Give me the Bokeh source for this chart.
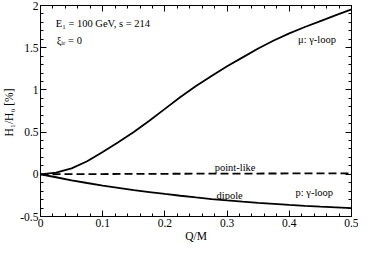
from bokeh.plotting import figure
from bokeh.models import LinearAxis, SingleIntervalTicker, CustomJSTickFormatter, Range1d
from bokeh.core.properties import value
from bokeh.embed import file_html
from bokeh.resources import INLINE

# ---- data ----
q = [0.0, 0.025, 0.05, 0.075, 0.1, 0.125, 0.15, 0.175, 0.2, 0.225, 0.25,
     0.275, 0.3, 0.325, 0.35, 0.375, 0.4, 0.425, 0.45, 0.475, 0.5]
mu_loop = [0.0, 0.02, 0.07, 0.155, 0.265, 0.38, 0.50, 0.635, 0.775, 0.915, 1.045,
           1.165, 1.28, 1.385, 1.49, 1.585, 1.67, 1.745, 1.815, 1.885, 1.955]
dipole = [0.0, -0.035, -0.072, -0.103, -0.133, -0.16, -0.187, -0.21, -0.233, -0.254, -0.274,
          -0.293, -0.309, -0.324, -0.338, -0.35, -0.362, -0.373, -0.383, -0.391, -0.40]
q_point = [0.0, 0.1, 0.2, 0.3, 0.4, 0.5]
point_like = [0.0, 0.003, 0.006, 0.008, 0.010, 0.012]

x_ticks = [0, 0.1, 0.2, 0.3, 0.4, 0.5]
x_tick_labels = ["0", "0.1", "0.2", "0.3", "0.4", "0.5"]
y_ticks = [-0.5, 0, 0.5, 1, 1.5, 2]
y_tick_labels = ["-0.5", "0", "0.5", "1", "1.5", "2"]

ann_text = ["E\u2081 = 100 GeV,  s = 214", "\u03be\u1d62\u1d63 = 0", "\u03bc: \u03b3-loop",
            "point-like", "dipole", "p: \u03b3-loop"]
ann_x = [0.0245, 0.026, 0.414, 0.280, 0.283, 0.410]
ann_y = [1.79, 1.58, 1.60, 0.085, -0.255, -0.21]

FONT = "'Liberation Serif'"

p = figure(width=358, height=244, output_backend="svg", toolbar_location=None,
           x_range=Range1d(0, 0.5), y_range=Range1d(-0.5, 2),
           min_border_left=30, min_border_right=7, min_border_top=5, min_border_bottom=26,
           x_axis_label="Q/M", y_axis_label="H\u2081/H\u2080  [%]")
p.grid.visible = False
p.outline_line_color = "black"
p.outline_line_width = 1
p.background_fill_color = "white"
p.border_fill_color = "white"

def style_axis(ax):
    ax.axis_line_color = "black"
    ax.major_tick_in = 6
    ax.major_tick_out = 0
    ax.minor_tick_in = 3
    ax.minor_tick_out = 0
    ax.major_tick_line_color = "black"
    ax.minor_tick_line_color = "black"
    ax.major_label_text_font = FONT
    ax.major_label_text_font_size = "11.5px"
    ax.major_label_text_color = "black"
    ax.axis_label_text_font = FONT
    ax.axis_label_text_font_size = "11.5px"
    ax.axis_label_text_font_style = "normal"
    ax.axis_label_text_color = "black"

xa = p.xaxis[0]
xa.ticker = SingleIntervalTicker(interval=0.1, num_minor_ticks=5)
xa.major_label_overrides = {t: l for t, l in zip(x_ticks, x_tick_labels)}
style_axis(xa)
xa.major_label_standoff = 2
xa.axis_label_standoff = 0

ya = p.yaxis[0]
ya.ticker = SingleIntervalTicker(interval=0.5, num_minor_ticks=5)
ya.major_label_overrides = {t: l for t, l in zip(y_ticks, y_tick_labels)}
style_axis(ya)
ya.major_label_standoff = 2
ya.axis_label_standoff = 2

blank = CustomJSTickFormatter(code="return ''")
top = LinearAxis(ticker=SingleIntervalTicker(interval=0.1, num_minor_ticks=5), formatter=blank)
right = LinearAxis(ticker=SingleIntervalTicker(interval=0.5, num_minor_ticks=5), formatter=blank)
for ax in (top, right):
    style_axis(ax)
    ax.major_label_standoff = 0
    ax.major_label_text_font_size = "1px"
p.add_layout(top, "above")
p.add_layout(right, "right")

p.line(q, mu_loop, line_color="black", line_width=1.8)
p.line(q, dipole, line_color="black", line_width=1.8)
p.line(q_point, point_like, line_color="black", line_width=1.8, line_dash="8 4")

p.text(x=ann_x, y=ann_y, text=ann_text, text_font=value("Liberation Serif"),
       text_font_size=value("10.5px"), text_align="left", text_baseline="middle",
       text_color="black")

open("out.html", "w").write(file_html(p, INLINE))
